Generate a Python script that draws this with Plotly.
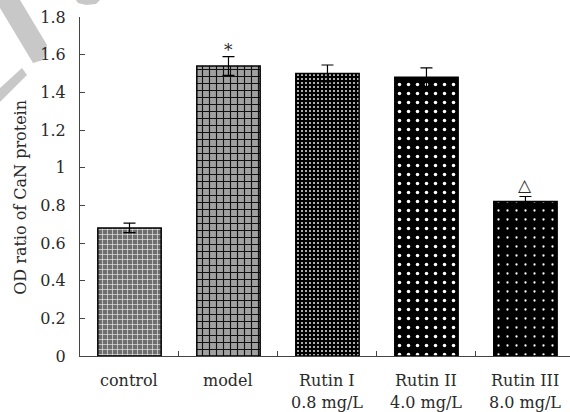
import plotly.graph_objects as go

categories = ["control", "model", "Rutin I", "Rutin II", "Rutin III"]
line2 = ["", "", "0.8 mg/L", "4.0 mg/L", "8.0 mg/L"]
values = [0.68, 1.54, 1.50, 1.48, 0.82]
errors = [0.025, 0.05, 0.045, 0.05, 0.027]
marks = ["", "*", "", "", "△"]
mark_y = [None, 1.625, None, None, 0.91]
y_ticks = [0, 0.2, 0.4, 0.6, 0.8, 1, 1.2, 1.4, 1.6, 1.8]

FONT = "DejaVu Serif"
TXT = "#2a2a2a"
W, H = 570, 412
ML, MR, MT, MB = 80, 0, 17, 56

patterns = [
    dict(shape="+", fgcolor="#e8e8e8", bgcolor="#6e6e6e", size=5, solidity=0.25),
    dict(shape="+", fgcolor="#111111", bgcolor="#a0a0a0", size=7, solidity=0.3),
    dict(shape=".", fgcolor="#e6e6e6", bgcolor="black", size=4, solidity=0.2),
    dict(shape=".", fgcolor="white", bgcolor="black", size=9, solidity=0.12),
    dict(shape=".", fgcolor="white", bgcolor="black", size=9, solidity=0.05),
]

fig = go.Figure()
for i, c in enumerate(categories):
    fig.add_trace(go.Bar(
        x=[c], y=[values[i]],
        width=0.64,
        marker=dict(color="black", line=dict(color="black", width=1.5),
                    pattern=dict(fillmode="replace", **patterns[i])),
        error_y=dict(type="data", array=[errors[i]], color="black",
                     thickness=1.2, width=6),
        showlegend=False,
    ))

annotations = []
for i, c in enumerate(categories):
    annotations.append(dict(x=c, y=0, xref="x", yref="paper", text=c,
                            showarrow=False, yanchor="middle", yshift=-24,
                            font=dict(family=FONT, size=16, color=TXT)))
    if line2[i]:
        annotations.append(dict(x=c, y=0, xref="x", yref="paper", text=line2[i],
                                showarrow=False, yanchor="middle", yshift=-46,
                                font=dict(family=FONT, size=16, color=TXT)))
    if marks[i]:
        annotations.append(dict(x=c, y=mark_y[i], xref="x", yref="y", text=marks[i],
                                showarrow=False, yanchor="middle",
                                font=dict(family=FONT, size=17, color=TXT)))

annotations.append(dict(x=0, y=0.84, xref="paper", yref="y",
                        text="OD ratio of CaN protein", textangle=-90,
                        showarrow=False, xanchor="center", yanchor="middle",
                        xshift=-59, font=dict(family=FONT, size=16, color=TXT)))

# faint watermark decoration in the top-left corner (pixel -> paper)
pw, ph = W - ML - MR, H - MT - MB
def px(x, y):
    return (x - ML) / pw, (H - MB - y) / ph

def path(points):
    s = ""
    for k, (x, y) in enumerate(points):
        X, Y = px(x, y)
        s += ("M" if k == 0 else "L") + f"{X:.4f},{Y:.4f} "
    return s + "Z"

wm = [
    [(0, 0), (20, 0), (47, 45), (43, 60), (33, 63), (0, 8)],
    [(0, 88), (22, 68), (27, 75), (0, 102)],
    [(76, 0), (100, 0), (96, 4), (86, 5), (78, 3)],
]
shapes = [dict(type="path", xref="paper", yref="paper", path=path(p),
               fillcolor="#c8c8c8", line=dict(width=0), layer="below")
          for p in wm]

fig.update_layout(
    width=W, height=H,
    margin=dict(l=ML, r=MR, t=MT, b=MB, pad=0),
    plot_bgcolor="white", paper_bgcolor="white",
    bargap=0.36,
    font=dict(family=FONT, size=16, color=TXT),
    annotations=annotations,
    shapes=shapes,
    xaxis=dict(type="category", range=[-0.5, 4.45], showticklabels=False,
               ticks="inside", tickson="boundaries", ticklen=5,
               tickcolor="#444", showline=True, linecolor="#444", linewidth=1,
               showgrid=False, zeroline=False),
    yaxis=dict(range=[0, 1.8], tickvals=y_ticks, ticks="inside", ticklen=5,
               tickcolor="#444", showline=True, linecolor="#444", linewidth=1,
               showgrid=False, zeroline=False, ticklabelstandoff=10,
               tickfont=dict(family=FONT, size=16, color=TXT)),
)

fig.write_html("out.html")
